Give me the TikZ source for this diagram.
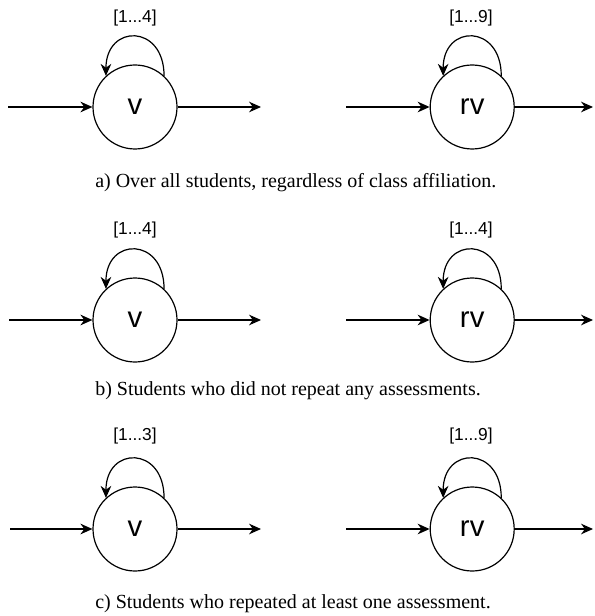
\documentclass[tikz,border=0pt]{standalone}
\usepackage{fontspec}
\setmainfont{Liberation Serif}
\setsansfont{Liberation Sans}
\usetikzlibrary{arrows.meta, positioning}

\begin{document}
\begin{tikzpicture}[
      x=0.75pt, y=0.75pt,
      node distance=0pt and 189pt,
      state/.style={circle, draw, line width=0.9pt, minimum size=63pt, inner sep=0pt, font=\sffamily\fontsize{22}{24}\selectfont},
      count/.style={font=\sffamily\fontsize{13}{15}\selectfont},
      caption/.style={anchor=base west, inner sep=0pt, font=\fontsize{15}{18}\selectfont},
      arrow/.style={-{Stealth[length=9pt, width=8pt]}, line width=0.9pt},
      selfloop/.style={arrow, out=90, in=90, looseness=2.3}
    ]
    \useasboundingbox (0,0) rectangle (594,-616);

    % a) all students
    \node[state] (va) at (135,-107) {v};
    \node[state, right=of va] (rva) {rv};
    \coordinate (ina) at (8,-107);
    \coordinate (outa) at (261,-107);
    \coordinate (rina) at (346,-107);
    \coordinate (routa) at (593,-107);
    \node[count] (la) at (135,-18) {[1...4]};
    \node[count] (rla) at (471,-18) {[1...9]};
    \draw[arrow] (ina) -- (va);
    \draw[arrow] (va) -- (outa);
    \draw[selfloop] (va.47) to (va.133);
    \draw[arrow] (rina) -- (rva);
    \draw[arrow] (rva) -- (routa);
    \draw[selfloop] (rva.47) to (rva.133);
    \node[caption] (capa) at (95,-188) {a) Over all students, regardless of class affiliation.};

    % b) no repeated assessments
    \node[state] (vb) at (135,-320) {v};
    \node[state, right=of vb] (rvb) {rv};
    \coordinate (inb) at (9,-320);
    \coordinate (outb) at (261,-320);
    \coordinate (rinb) at (346,-320);
    \coordinate (routb) at (593,-320);
    \node[count] (lb) at (135,-230) {[1...4]};
    \node[count] (rlb) at (471,-230) {[1...4]};
    \draw[arrow] (inb) -- (vb);
    \draw[arrow] (vb) -- (outb);
    \draw[selfloop] (vb.47) to (vb.133);
    \draw[arrow] (rinb) -- (rvb);
    \draw[arrow] (rvb) -- (routb);
    \draw[selfloop] (rvb.47) to (rvb.133);
    \node[caption] (capb) at (95,-395) {b) Students who did not repeat any assessments.};

    % c) at least one repeat
    \node[state] (vc) at (135,-529) {v};
    \node[state, right=of vc] (rvc) {rv};
    \coordinate (inc) at (10,-529);
    \coordinate (outc) at (261,-529);
    \coordinate (rinc) at (346,-529);
    \coordinate (routc) at (593,-529);
    \node[count] (lc) at (135,-436) {[1...3]};
    \node[count] (rlc) at (471,-436) {[1...9]};
    \draw[arrow] (inc) -- (vc);
    \draw[arrow] (vc) -- (outc);
    \draw[selfloop] (vc.47) to (vc.133);
    \draw[arrow] (rinc) -- (rvc);
    \draw[arrow] (rvc) -- (routc);
    \draw[selfloop] (rvc.47) to (rvc.133);
    \node[caption] (capc) at (95,-608) {c) Students who repeated at least one assessment.};
  \end{tikzpicture}
\end{document}
